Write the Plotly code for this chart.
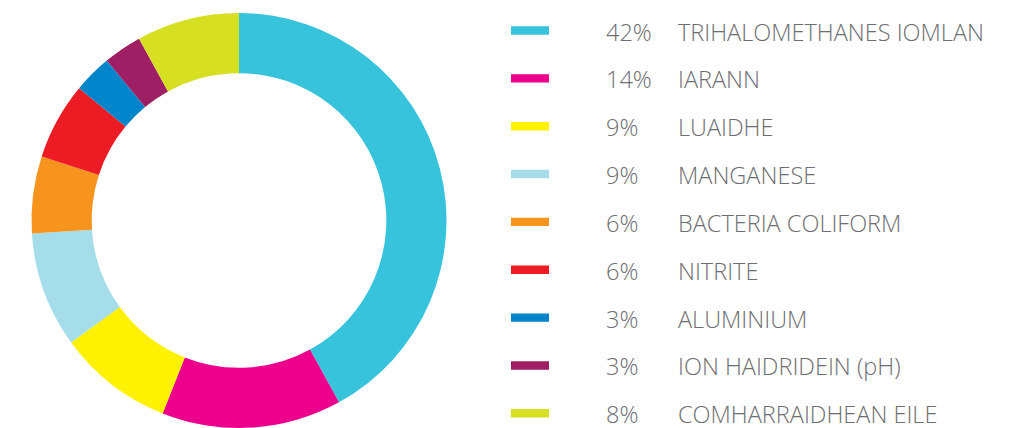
import plotly.graph_objects as go

labels = ["TRIHALOMETHANES IOMLAN", "IARANN", "LUAIDHE", "MANGANESE", "BACTERIA COLIFORM",
          "NITRITE", "ALUMINIUM", "ION HAIDRIDEIN (pH)", "COMHARRAIDHEAN EILE"]
values = [42, 14, 9, 9, 6, 6, 3, 3, 8]
colors = ["#38C3DD", "#EC008C", "#FFF200", "#A6DDEA", "#F7941D",
          "#ED1C24", "#0085CA", "#9E1F63", "#D7DF23"]

W, H = 1010, 428
OFF = 8  # page body margin shifts the figure
font = dict(family="Open Sans", size=23.5, color="#6D6E71", weight=300)

fig = go.Figure()
fig.add_trace(go.Pie(
    labels=labels, values=values, sort=False, direction="clockwise", rotation=0,
    hole=0.71, marker=dict(colors=colors, line=dict(width=0)),
    textinfo="none", showlegend=False,
    domain=dict(x=[(31 - OFF) / W, (447 - OFF) / W],
                y=[1 - (428 - OFF) / H, 1 - (13 - OFF) / H]),
))

# custom legend: colour bar, percentage, label
row0, step = 30.5 - OFF, 47.85
for i, (lab, val, col) in enumerate(zip(labels, values, colors)):
    yc = 1 - (row0 + i * step) / H
    fig.add_shape(type="rect", xref="paper", yref="paper",
                  x0=(511 - OFF) / W, x1=(549 - OFF) / W, y0=yc - 4.2 / H, y1=yc + 4.2 / H,
                  fillcolor=col, line=dict(width=0))
    fig.add_annotation(x=(604 - OFF) / W, y=yc - 1 / H, xref="paper", yref="paper",
                       text=f"{val}%", showarrow=False, xanchor="left", yanchor="middle", font=font)
    fig.add_annotation(x=(676 - OFF) / W, y=yc - 1 / H, xref="paper", yref="paper",
                       text=lab, showarrow=False, xanchor="left", yanchor="middle", font=font)

fig.update_layout(
    width=W, height=H, margin=dict(l=0, r=0, t=0, b=0),
    paper_bgcolor="white", plot_bgcolor="white",
)
fig.write_html("out.html")
